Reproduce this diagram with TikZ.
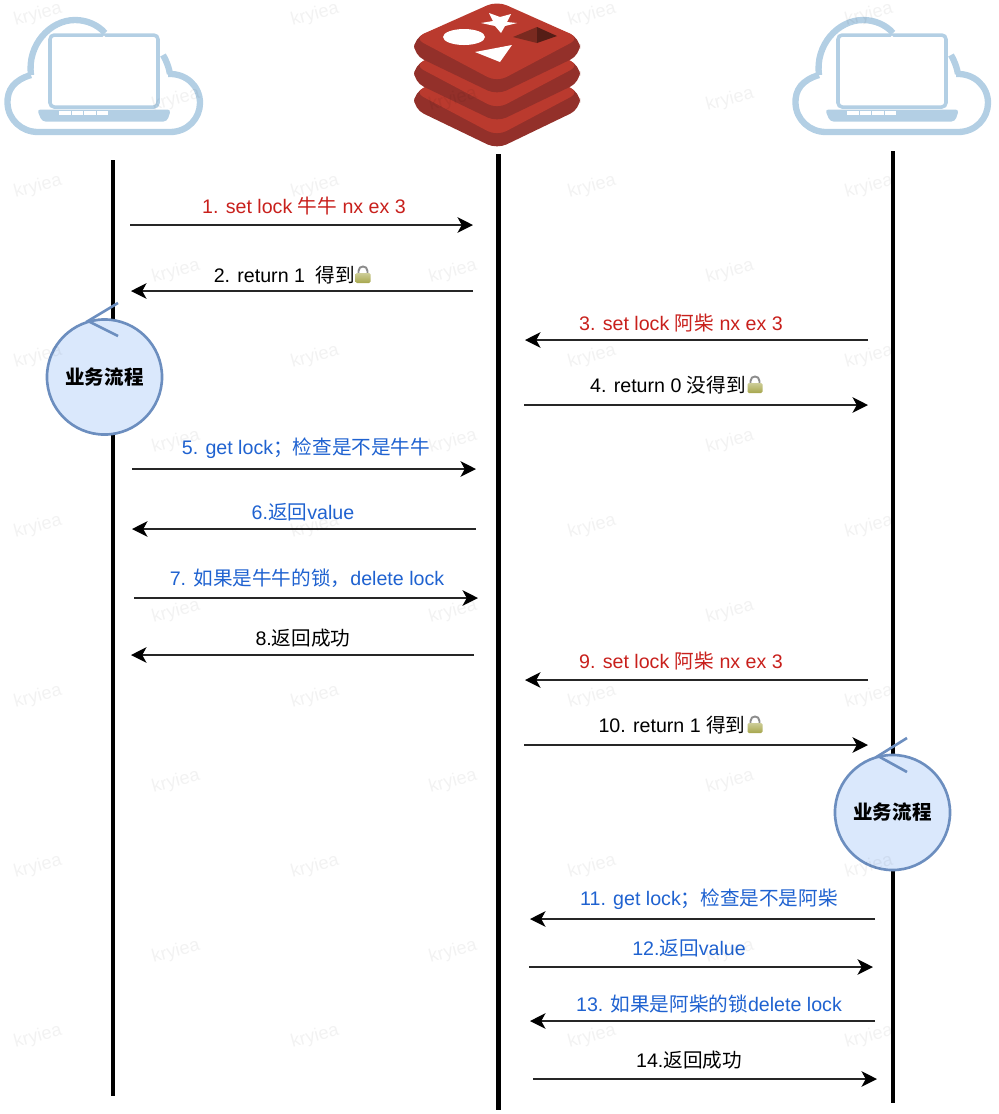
\documentclass[tikz,border=0pt]{standalone}
\usepackage{fontspec}
\setmainfont{Liberation Sans}
\newfontfamily\cjk{Noto Sans CJK SC}
\usetikzlibrary{arrows.meta}

\definecolor{cloudblue}{HTML}{B3CFE4}
\definecolor{redred}{HTML}{C8201C}
\definecolor{linkblue}{HTML}{1F62D0}
\definecolor{flowfill}{HTML}{DAE8FC}
\definecolor{flowline}{HTML}{6C8EBF}
\definecolor{redistop}{HTML}{BA3A2E}
\definecolor{redisside}{HTML}{93302A}
\definecolor{redisdark}{HTML}{7A2A20}

\tikzset{
  lifeline/.style={line width=1.35pt},
  msgarrow/.style={line width=0.5pt, draw=black!85, -{Stealth[length=4.4pt,width=4.4pt,inset=1.2pt,black]}},
  msglabel/.style={font=\fontsize{5.58pt}{6.5pt}\selectfont, inner sep=0pt},
  flowstep/.style={circle, draw=flowline, fill=flowfill, line width=0.75pt, minimum size=1.15cm, inner sep=0pt, font=\fontsize{5.55pt}{6.5pt}\selectfont\cjk\bfseries},
  flowtick/.style={draw=flowline, line width=0.75pt},
  watermark/.style={font=\fontsize{5.2pt}{6pt}\selectfont, text=black, opacity=0.05, rotate=15, inner sep=0pt},
  laptopcloud/.pic={
    \draw[cloudblue, line width=1.8pt]
      (31,75) .. controls (14,80) and (7,90) .. (7.5,103)
      .. controls (8,120) and (22,132) .. (38,132) -- (170,132)
      .. controls (188,132) and (200,118) .. (200,103)
      .. controls (200,86) and (186,73) .. (168,74);
    \draw[cloudblue, line width=1.8pt]
      (31,75) .. controls (27,45) and (50,20) .. (75,20)
      .. controls (87,20) and (98,25) .. (105,33);
    \draw[cloudblue, line width=1.8pt] (163,55) .. controls (167,62) and (169,68) .. (170,74);
    % Screen
    \draw[cloudblue, fill=white, line width=1pt, rounded corners=1.2pt] (50,35) rectangle (158,107);
    \fill[white] (104,37) circle (1.5);
    % Base
    \fill[cloudblue, rounded corners=1pt] (37,109.5) -- (171,109.5) -- (167,121.5) -- (42,121.5) -- cycle;
    \foreach \k in {59,71.5,84,96.5} {
      \fill[white] (\k,111) rectangle ++(11.5,3.6);
    }
  },
  lockicon/.pic={
    % Shackle
    \draw[black!45, line width=0.55pt] (-4.5,-5) -- (-4.5,-7) .. controls (-4.5,-13) and (4.5,-13) .. (4.5,-7) -- (4.5,-5);
    % Body
    \shade[top color=yellow!35!gray!60, bottom color=yellow!50!black!70, rounded corners=0.4pt] (-7.5,-5) rectangle (7.5,5);
  },
  redislayer/.pic={
    \fill[redisside, rounded corners=3pt] (414,38) -- (414,55) -- (497,95) -- (580,55) -- (580,38) -- (497,4) -- cycle;
    \fill[redistop, rounded corners=3pt] (414,38) -- (497,1) -- (580,38) -- (497,82) -- cycle;
  }
}

\begin{document}
\begin{tikzpicture}[x=0.01cm, y=-0.01cm]

\useasboundingbox (0,0) rectangle (999,1114);

% Clients
\pic at (0,0) {laptopcloud};
\pic at (788,0) {laptopcloud};

% Redis
\foreach \dy in {54,27,0} {
  \pic at (0,\dy) {redislayer};
}
\fill[white] (489,13) -- (500,17) -- (511,14) -- (507,22) -- (517,23) -- (505,26) -- (501,33) -- (495,26) -- (481,23) -- (493,21) -- cycle;
\fill[white] (464,37) ellipse (21 and 8);
\fill[white] (475,52) -- (512,45) -- (500,62) -- cycle;
\fill[redisdark] (513,37) -- (537,27) -- (537,43) -- cycle;
\fill[redisdark!70!black] (537,27) -- (557,36) -- (537,43) -- cycle;

% Lifelines
\coordinate (clienta top) at (113,160);
\coordinate (clienta end) at (113,1096);
\coordinate (server top) at (498.7,154);
\coordinate (server end) at (498.7,1110);
\coordinate (clientb top) at (893,151);
\coordinate (clientb end) at (893,1103);
\draw[lifeline] (clienta top) -- (clienta end);
\draw[lifeline] (server top) -- (server end);
\draw[lifeline] (clientb top) -- (clientb end);

% Messages
\foreach \idx/\ya/\xa/\xb/\lx/\ly/\col/\txt in {
  1/225/130/473/304/206/redred/{1. set lock {\cjk 牛牛} nx ex 3},
  2/291/473/131/284.5/275/black/{2. return 1\ \ {\cjk 得到}},
  3/340/868/525/681/323/redred/{3. set lock {\cjk 阿柴} nx ex 3},
  4/405/524/868/668/385/black/{4. return 0 {\cjk 没得到}},
  5/469/132/476/306/448/linkblue/{5. get lock{\cjk ；检查是不是牛牛}},
  6/529/476/132/303/512/linkblue/{6.{\cjk 返回}value},
  7/598/134/478/307/578/linkblue/{7. {\cjk 如果是牛牛的锁，}delete lock},
  8/655/474/131/303/638/black/{8.{\cjk 返回成功}},
  9/680/868/525/681/661/redred/{9. set lock {\cjk 阿柴} nx ex 3},
  10/745/524/868/672/725/black/{10. return 1 {\cjk 得到}},
  11/919/875/530/709/899/linkblue/{11. get lock{\cjk ；检查是不是阿柴}},
  12/967/529/873/689/948/linkblue/{12.{\cjk 返回}value},
  13/1021/875/530/709/1004/linkblue/{13. {\cjk 如果是阿柴的锁}delete lock},
  14/1079/533/877/689/1060/black/{14.{\cjk 返回成功}}} {
  \coordinate (from\idx) at (\xa,\ya);
  \coordinate (to\idx) at (\xb,\ya);
  \draw[msgarrow] (from\idx) -- (to\idx);
  \node[msglabel, text=\col] (label\idx) at (\lx,\ly) {\txt};
}

% Locks
\pic at (363,278) {lockicon};
\pic at (755,388) {lockicon};
\pic at (755,728) {lockicon};

% Business steps
\node[flowstep] (flowa) at (104.5,377) {业务流程};
\node[flowstep] (flowb) at (892.5,812.5) {业务流程};
\draw[flowtick] ([shift={(13.5,-74)}]flowa.center) -- ([shift={(-16.5,-56)}]flowa.center) -- ([shift={(13.5,-41)}]flowa.center);
\draw[flowtick] ([shift={(14.5,-74.5)}]flowb.center) -- ([shift={(-14.5,-56.5)}]flowb.center) -- ([shift={(14.5,-40.5)}]flowb.center);

% Watermark
\foreach \wx in {38,315,592,869} {
  \foreach \wy in {15,187,357,527,697,867,1037} {
    \node[watermark] at (\wx,\wy) {kryiea};
  }
}
\foreach \wx in {176,453,730} {
  \foreach \wy in {100,272,442,612,782,952} {
    \node[watermark] at (\wx,\wy) {kryiea};
  }
}

\end{tikzpicture}
\end{document}
